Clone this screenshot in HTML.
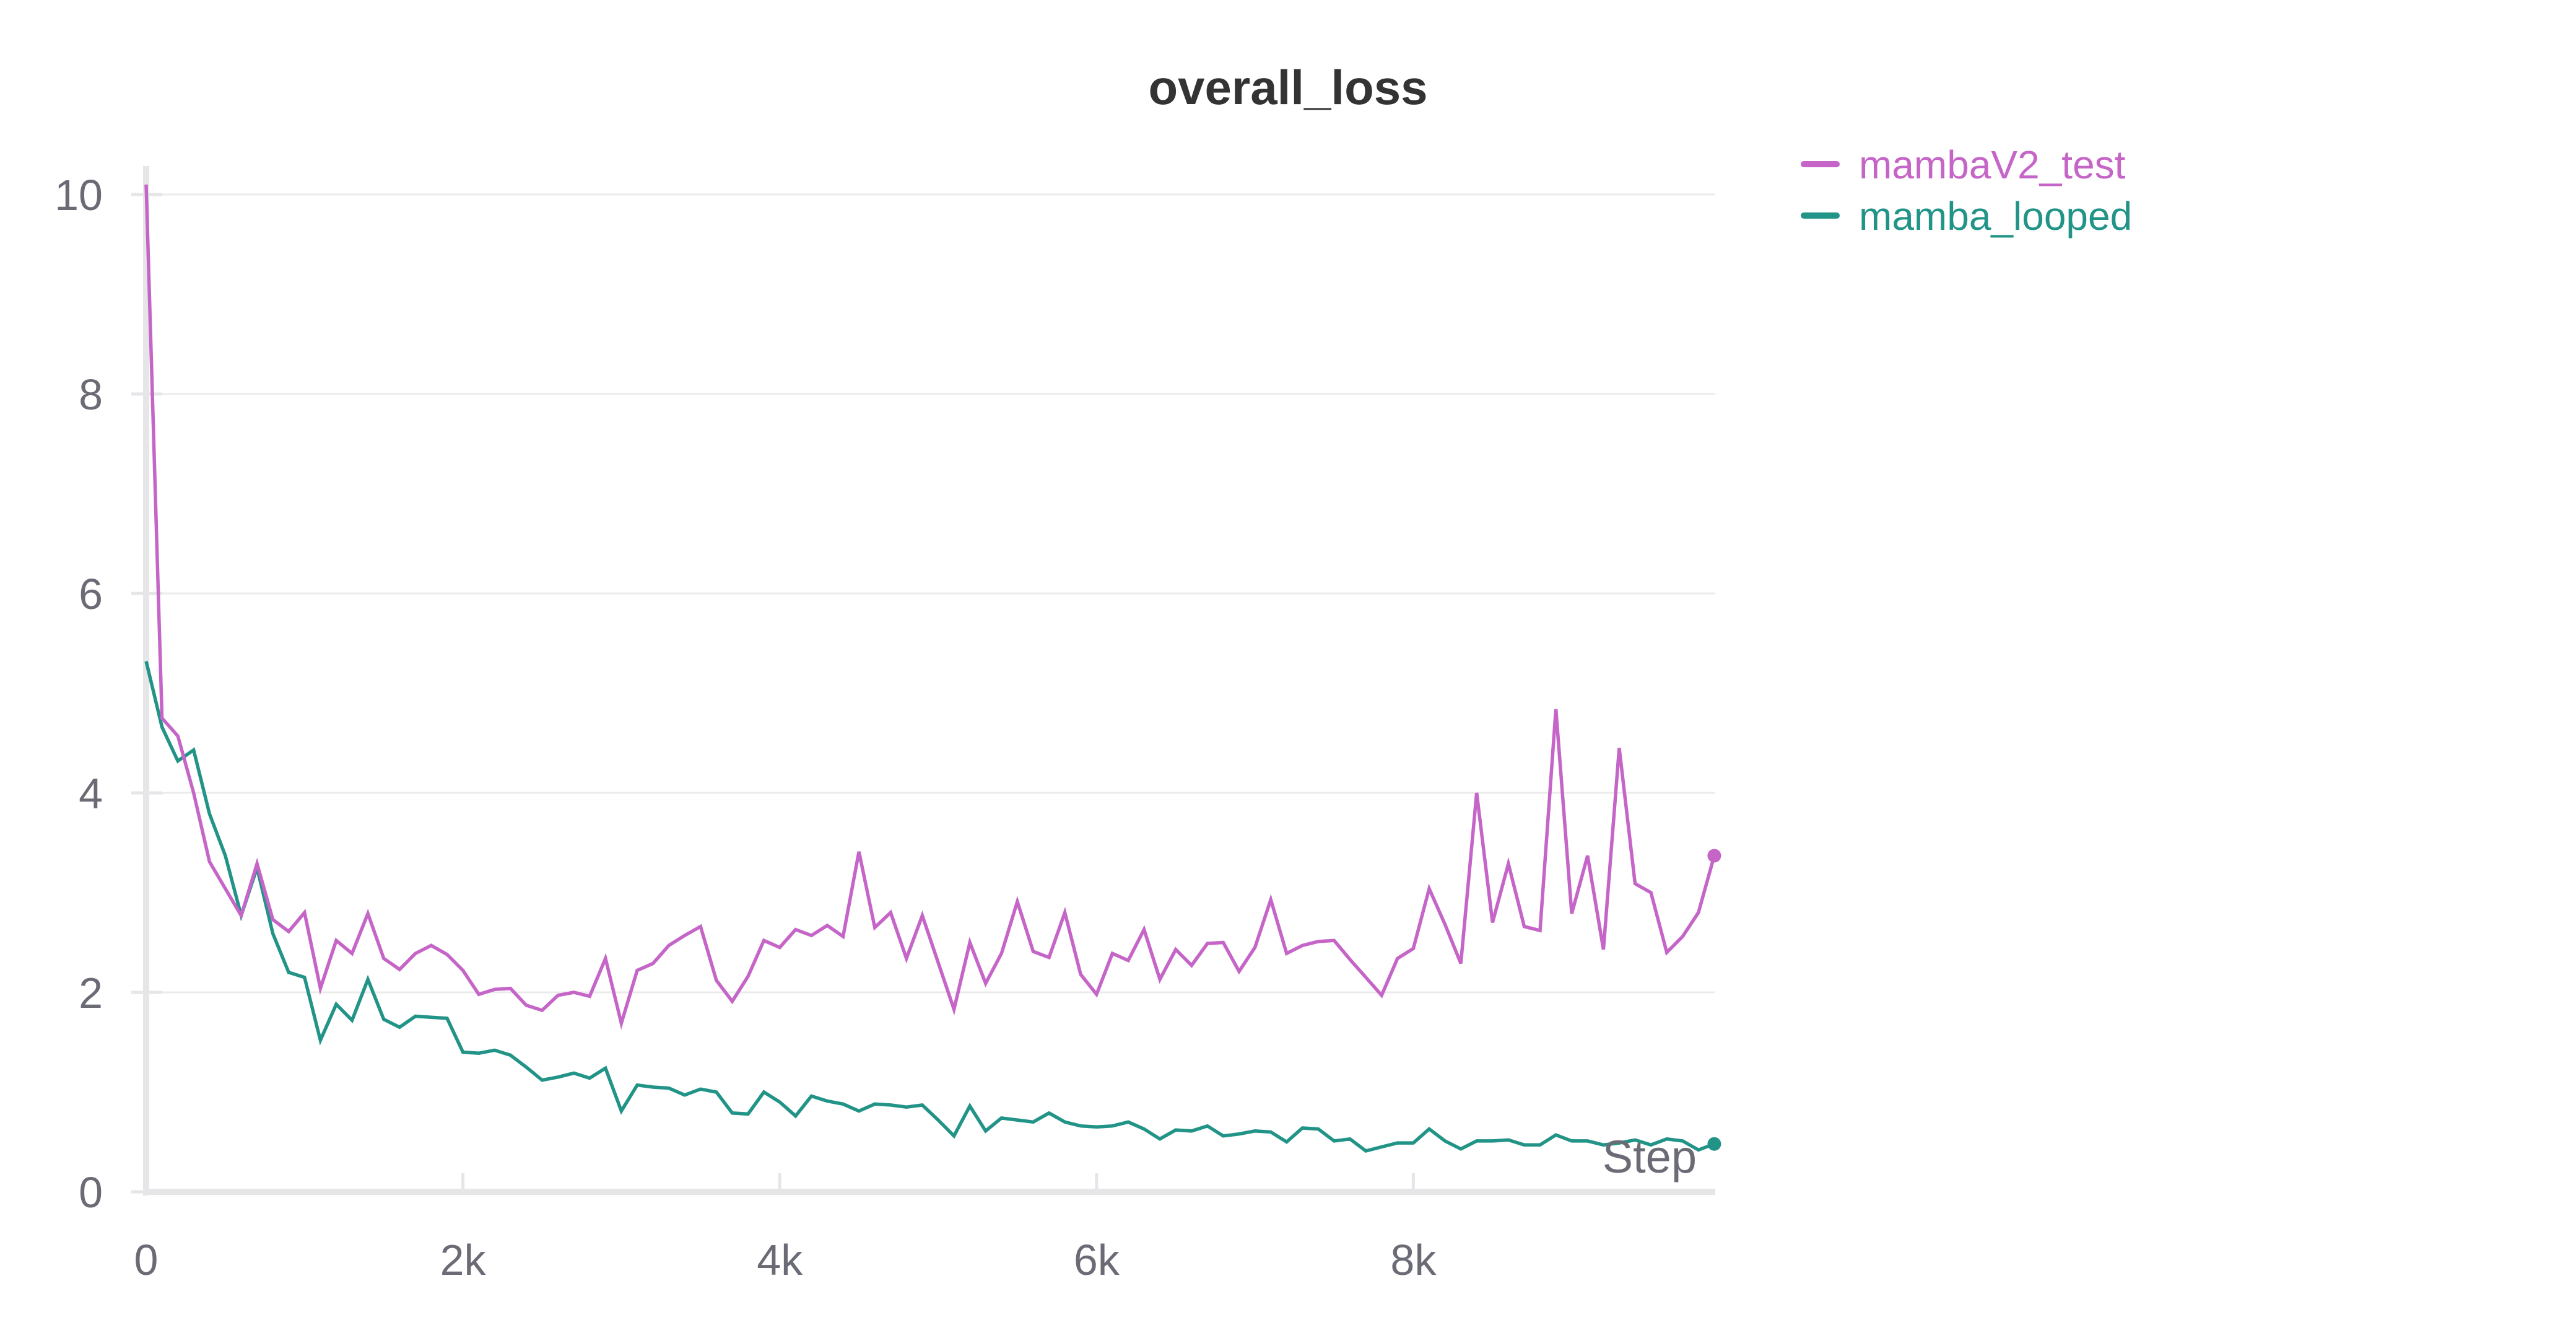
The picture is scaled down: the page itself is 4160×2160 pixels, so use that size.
<!DOCTYPE html>
<html><head><meta charset="utf-8"><style>
html,body{margin:0;padding:0;background:#fff;}
svg{display:block;font-family:"Liberation Sans",sans-serif;}
</style></head><body>
<svg id="chart" width="4160" height="2160" viewBox="0 0 4160 2160" xmlns="http://www.w3.org/2000/svg">
<text x="2080" y="168" text-anchor="middle" font-size="78" font-weight="bold" fill="#333">overall_loss</text>
<g id="grid"></g>
<g id="axes"></g>
<g id="series"></g>
<text x="2740" y="1893" text-anchor="end" font-size="74" fill="#6b6b76">Step</text>
<g>
<g>
<line x1="2913" y1="265" x2="2966" y2="265" stroke="#c565c7" stroke-width="10" stroke-linecap="round"/>
<text x="3002" y="288" font-size="64" fill="#c565c7">mambaV2_test</text></g>
<g>
<line x1="2913" y1="348" x2="2966" y2="348" stroke="#229487" stroke-width="10" stroke-linecap="round"/>
<text x="3002" y="371" font-size="64" fill="#229487">mamba_looped</text></g>
</g>
</svg>
<script>
const yTicks=[0,2,4,6,8,10];
const xTicks=[0,2000,4000,6000,8000];
const xTickLabels=["0","2k","4k","6k","8k"];
const mambaV2Test=[10.1,4.75,4.57,4.0,3.31,3.04,2.77,3.29,2.73,2.61,2.80,2.04,2.52,2.39,2.79,2.34,2.23,2.39,2.47,2.38,2.22,1.98,2.03,2.04,1.87,1.82,1.97,2.00,1.96,2.34,1.69,2.22,2.29,2.47,2.57,2.66,2.12,1.91,2.16,2.52,2.45,2.63,2.57,2.67,2.56,3.41,2.65,2.80,2.34,2.77,2.30,1.83,2.50,2.09,2.39,2.91,2.41,2.35,2.80,2.18,1.98,2.39,2.32,2.63,2.13,2.43,2.27,2.49,2.50,2.21,2.45,2.93,2.39,2.47,2.51,2.52,2.33,2.15,1.97,2.34,2.44,3.04,2.68,2.29,4.00,2.70,3.29,2.66,2.62,4.84,2.79,3.37,2.43,4.45,3.09,3.00,2.40,2.56,2.80,3.37];
const mambaLooped=[5.32,4.66,4.32,4.43,3.79,3.37,2.77,3.25,2.59,2.20,2.15,1.52,1.88,1.72,2.13,1.73,1.65,1.76,1.75,1.74,1.40,1.39,1.42,1.37,1.25,1.12,1.15,1.19,1.14,1.24,0.81,1.07,1.05,1.04,0.97,1.03,1.00,0.79,0.78,1.00,0.90,0.76,0.96,0.91,0.88,0.81,0.88,0.87,0.85,0.87,0.72,0.56,0.86,0.61,0.74,0.72,0.70,0.79,0.70,0.66,0.65,0.66,0.70,0.63,0.53,0.62,0.61,0.66,0.56,0.58,0.61,0.60,0.50,0.64,0.63,0.51,0.53,0.41,0.45,0.49,0.49,0.63,0.51,0.43,0.51,0.51,0.52,0.47,0.47,0.57,0.51,0.51,0.47,0.49,0.52,0.47,0.53,0.51,0.42,0.48];
const stepSize=100;
const NS="http://www.w3.org/2000/svg";
const X0=236,PX_PER_STEP=0.2558,Y0=1924,PX_PER_UNIT=161;
const xs=v=>X0+v*PX_PER_STEP;
const ys=v=>Y0-v*PX_PER_UNIT;
const XR=2770;
function mk(tag,attrs,parent){const e=document.createElementNS(NS,tag);for(const k in attrs)e.setAttribute(k,attrs[k]);parent.appendChild(e);return e;}
const grid=document.getElementById('grid'),axes=document.getElementById('axes'),series=document.getElementById('series');
yTicks.forEach(t=>{
  if(t>0){const g=mk('line',{x1:X0,x2:XR,y1:ys(t),y2:ys(t),stroke:'#ebebeb','stroke-width':3},grid);
  
  }
  const tk=mk('line',{x1:212,x2:262,y1:ys(t),y2:ys(t),stroke:'#e6e6e9','stroke-width':5},axes);
  
  
  const lb=mk('text',{x:166,y:ys(t)+25,'text-anchor':'end','font-size':70,fill:'#6b6b76'},axes);
  lb.textContent=String(t);
  
  
});
const ya=mk('line',{x1:X0,x2:X0,y1:268,y2:Y0+6,stroke:'#e6e6e9','stroke-width':10},axes);


const xa=mk('line',{x1:X0-5,x2:XR,y1:Y0,y2:Y0,stroke:'#e6e6e9','stroke-width':10},axes);


xTicks.forEach((t,i)=>{
  if(t>0){const tk=mk('line',{x1:xs(t),x2:xs(t),y1:Y0-30,y2:Y0,stroke:'#e6e6e9','stroke-width':5},axes);
  
  }
  const lb=mk('text',{x:xs(t),y:2058,'text-anchor':'middle','font-size':70,fill:'#6b6b76'},axes);
  lb.textContent=xTickLabels[i];
  
  
});
function drawSeries(vals,color,name){
  const d=vals.map((v,i)=>(i?'L':'M')+xs(i*stepSize).toFixed(1)+','+ys(v).toFixed(1)).join(' ');
  const p=mk('path',{d:d,fill:'none',stroke:color,'stroke-width':5.5,'stroke-linejoin':'miter'},series);
  
  
  const n=vals.length-1;
  const c=mk('circle',{cx:xs(n*stepSize),cy:ys(vals[n]),r:11,fill:color},series);
  
  
}
drawSeries(mambaLooped,'#229487','mamba-looped');
drawSeries(mambaV2Test,'#c565c7','mambaV2-test');
</script>
</body></html>
